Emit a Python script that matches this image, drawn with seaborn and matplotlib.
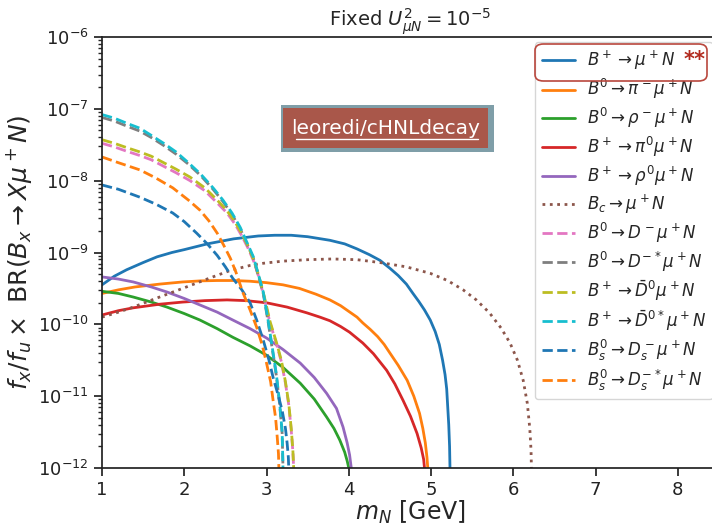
import numpy as np
import pandas as pd
import matplotlib
matplotlib.use("Agg")
import matplotlib.pyplot as plt
import matplotlib.ticker as mticker
import seaborn as sns
from matplotlib.patches import FancyBboxPatch, Rectangle
from matplotlib.lines import Line2D

# ---- data (x = m_N in GeV, y = log10 of BR) ----
b_mu_x = [1.0, 1.15, 1.3, 1.5, 1.67, 1.85, 2.0, 2.28, 2.6, 2.9, 3.1, 3.3, 3.5, 3.77, 3.95, 4.1, 4.25, 4.38, 4.5, 4.6, 4.7, 4.78, 4.85, 4.92, 4.99, 5.05, 5.1, 5.14, 5.17, 5.19, 5.2, 5.215, 5.225, 5.23]
b_mu_y = [-9.45, -9.33, -9.24, -9.14, -9.06, -9.0, -8.96, -8.88, -8.81, -8.77, -8.76, -8.76, -8.78, -8.83, -8.88, -8.95, -9.03, -9.11, -9.22, -9.32, -9.44, -9.57, -9.68, -9.8, -9.94, -10.1, -10.28, -10.5, -10.7, -10.9, -11.1, -11.4, -11.7, -12.0]

b0_pi_x = [1.0, 1.2, 1.4, 1.7, 1.98, 2.2, 2.4, 2.6, 2.8, 3.0, 3.2, 3.4, 3.6, 3.77, 3.9, 4.0, 4.1, 4.17, 4.26, 4.35, 4.43, 4.5, 4.6, 4.71, 4.79, 4.86, 4.9, 4.93, 4.95, 4.96]
b0_pi_y = [-9.57, -9.52, -9.48, -9.44, -9.41, -9.395, -9.39, -9.39, -9.40, -9.42, -9.45, -9.5, -9.58, -9.66, -9.74, -9.82, -9.9, -9.98, -10.07, -10.17, -10.28, -10.4, -10.57, -10.78, -11.0, -11.24, -11.45, -11.65, -11.85, -12.0]

b0_rho_x = [1.0, 1.2, 1.38, 1.6, 1.79, 2.0, 2.19, 2.4, 2.59, 2.8, 3.0, 3.2, 3.41, 3.58, 3.73, 3.82, 3.89, 3.95, 3.98, 4.0]
b0_rho_y = [-9.54, -9.57, -9.62, -9.69, -9.76, -9.85, -9.94, -10.06, -10.18, -10.3, -10.43, -10.6, -10.82, -11.04, -11.29, -11.45, -11.61, -11.78, -11.9, -12.0]

bp_pi0_x = [1.0, 1.2, 1.38, 1.7, 1.98, 2.25, 2.52, 2.75, 3.0, 3.25, 3.49, 3.65, 3.77, 3.9, 4.01, 4.17, 4.3, 4.46, 4.56, 4.66, 4.75, 4.83, 4.88, 4.91, 4.92]
bp_pi0_y = [-9.87, -9.81, -9.77, -9.72, -9.69, -9.67, -9.66, -9.67, -9.70, -9.76, -9.84, -9.9, -9.95, -10.03, -10.11, -10.26, -10.41, -10.64, -10.83, -11.06, -11.28, -11.52, -11.72, -11.88, -12.0]

bp_rho0_x = [1.0, 1.2, 1.38, 1.6, 1.79, 2.0, 2.19, 2.4, 2.59, 2.8, 3.0, 3.2, 3.41, 3.58, 3.73, 3.85, 3.93, 3.98, 4.01, 4.03]
bp_rho0_y = [-9.34, -9.37, -9.41, -9.48, -9.55, -9.64, -9.73, -9.83, -9.94, -10.06, -10.19, -10.35, -10.54, -10.74, -10.96, -11.17, -11.43, -11.65, -11.82, -12.0]

bc_mu_x = [1.0, 1.2, 1.38, 1.7, 1.98, 2.3, 2.56, 2.8, 2.96, 3.2, 3.5, 3.8, 4.1, 4.38, 4.7, 4.99, 5.2, 5.39, 5.55, 5.71, 5.85, 5.96, 6.05, 6.12, 6.17, 6.2, 6.215, 6.22]
bc_mu_y = [-9.90, -9.83, -9.76, -9.62, -9.50, -9.36, -9.25, -9.18, -9.15, -9.12, -9.1, -9.09, -9.1, -9.14, -9.2, -9.29, -9.39, -9.52, -9.66, -9.84, -10.05, -10.26, -10.5, -10.78, -11.1, -11.45, -11.75, -12.0]

b0_d_x = [1.0, 1.15, 1.3, 1.46, 1.6, 1.75, 1.9, 2.07, 2.25, 2.4, 2.52, 2.62, 2.7, 2.78, 2.85, 2.9, 2.97, 3.04, 3.12, 3.18, 3.23, 3.27, 3.3, 3.32, 3.33]
b0_d_y = [-7.48, -7.53, -7.59, -7.65, -7.71, -7.8, -7.89, -8.0, -8.14, -8.31, -8.45, -8.61, -8.77, -8.95, -9.14, -9.32, -9.62, -9.97, -10.27, -10.52, -10.82, -11.12, -11.47, -11.77, -12.0]

b0_dst_x = [1.0, 1.15, 1.3, 1.46, 1.6, 1.75, 1.9, 2.05, 2.2, 2.35, 2.47, 2.58, 2.68, 2.77, 2.84, 2.9, 2.96, 3.02, 3.08, 3.12, 3.16, 3.19, 3.2]
b0_dst_y = [-7.12, -7.17, -7.24, -7.31, -7.4, -7.51, -7.63, -7.77, -7.93, -8.12, -8.29, -8.47, -8.67, -8.9, -9.08, -9.32, -9.57, -9.97, -10.42, -10.72, -11.12, -11.52, -12.0]

bp_d0_x = [1.0, 1.15, 1.3, 1.46, 1.6, 1.75, 1.9, 2.07, 2.25, 2.4, 2.52, 2.62, 2.7, 2.78, 2.85, 2.9, 2.97, 3.04, 3.12, 3.18, 3.23, 3.27, 3.3, 3.32, 3.33]
bp_d0_y = [-7.43, -7.48, -7.54, -7.6, -7.66, -7.75, -7.84, -7.95, -8.1, -8.27, -8.42, -8.58, -8.74, -8.92, -9.12, -9.3, -9.6, -9.95, -10.25, -10.5, -10.8, -11.1, -11.45, -11.75, -12.0]

bp_d0st_x = [1.0, 1.15, 1.3, 1.46, 1.6, 1.75, 1.9, 2.05, 2.2, 2.35, 2.47, 2.58, 2.68, 2.77, 2.84, 2.9, 2.96, 3.02, 3.08, 3.12, 3.16, 3.19, 3.2]
bp_d0st_y = [-7.08, -7.13, -7.20, -7.27, -7.37, -7.48, -7.60, -7.75, -7.91, -8.1, -8.27, -8.45, -8.65, -8.88, -9.06, -9.3, -9.55, -9.95, -10.4, -10.7, -11.1, -11.5, -12.0]

bs_ds_x = [1.0, 1.2, 1.46, 1.66, 1.86, 2.0, 2.15, 2.28, 2.4, 2.5, 2.59, 2.7, 2.8, 2.88, 2.96, 3.03, 3.08, 3.14, 3.19, 3.23, 3.25, 3.265, 3.27]
bs_ds_y = [-8.06, -8.12, -8.23, -8.33, -8.45, -8.57, -8.73, -8.88, -9.04, -9.2, -9.36, -9.52, -9.70, -9.94, -10.22, -10.5, -10.74, -10.98, -11.2, -11.45, -11.65, -11.85, -12.0]

bs_dsst_x = [1.0, 1.2, 1.46, 1.65, 1.86, 2.05, 2.19, 2.3, 2.4, 2.48, 2.56, 2.63, 2.71, 2.8, 2.88, 2.95, 3.0, 3.05, 3.08, 3.11, 3.13, 3.145, 3.15]
bs_dsst_y = [-7.67, -7.75, -7.85, -7.96, -8.10, -8.27, -8.41, -8.56, -8.73, -8.9, -9.08, -9.28, -9.55, -9.8, -10.04, -10.3, -10.54, -10.8, -11.06, -11.3, -11.57, -11.8, -12.0]

labels = [
    r"$B^+ \to \mu^+ N$",
    r"$B^0 \to \pi^- \mu^+ N$",
    r"$B^0 \to \rho^- \mu^+ N$",
    r"$B^+ \to \pi^0 \mu^+ N$",
    r"$B^+ \to \rho^0 \mu^+ N$",
    r"$B_c \to \mu^+ N$",
    r"$B^0 \to D^- \mu^+ N$",
    r"$B^0 \to D^{-*} \mu^+ N$",
    r"$B^+ \to \bar{D}^0 \mu^+ N$",
    r"$B^+ \to \bar{D}^{0*} \mu^+ N$",
    r"$B^0_s \to D_s^- \mu^+ N$",
    r"$B^0_s \to D_s^{-*} \mu^+ N$",
]
series = [
    (b_mu_x, b_mu_y), (b0_pi_x, b0_pi_y), (b0_rho_x, b0_rho_y), (bp_pi0_x, bp_pi0_y),
    (bp_rho0_x, bp_rho0_y), (bc_mu_x, bc_mu_y), (b0_d_x, b0_d_y), (b0_dst_x, b0_dst_y),
    (bp_d0_x, bp_d0_y), (bp_d0st_x, bp_d0st_y), (bs_ds_x, bs_ds_y), (bs_dsst_x, bs_dsst_y),
]
colors = ["#1f77b4", "#ff7f0e", "#2ca02c", "#d62728", "#9467bd", "#8c564b",
          "#e377c2", "#7f7f7f", "#bcbd22", "#17becf", "#1f77b4", "#ff7f0e"]
styles = ["-"] * 5 + [":"] + ["--"] * 6

sns.set_theme(style="ticks")
plt.rcParams["font.family"] = ["DejaVu Sans"]
plt.rcParams["mathtext.fontset"] = "dejavusans"

fig = plt.figure(figsize=(7.12, 5.26), dpi=100)
ax = fig.add_axes([102 / 712, 58 / 526, 617 / 712, 431 / 526])

for (xs, ys), lab, c, ls in zip(series, labels, colors, styles):
    df = pd.DataFrame({"m": xs, "br": 10.0 ** np.array(ys)})
    sns.lineplot(data=df, x="m", y="br", ax=ax, color=c, linestyle=ls, lw=2,
                 label=lab, estimator=None, sort=False)

ax.set_yscale("log")
ax.set_xlim(1, 8.5)
ax.set_ylim(1e-12, 1e-6)
ax.set_xticks([1, 2, 3, 4, 5, 6, 7, 8])
ax.yaxis.set_minor_formatter(mticker.NullFormatter())
ax.tick_params(axis="both", labelsize=13, direction="out", colors="#222222")
ax.tick_params(axis="y", which="minor", length=3)
for s in ax.spines.values():
    s.set_color("#222222")
ax.set_xlabel(r"$m_N$ [GeV]", fontsize=17, labelpad=0)
ax.set_ylabel(r"$f_x/f_u \times$ BR$(B_x \to X\mu^+N)$", fontsize=18, labelpad=3)
ax.set_title(r"Fixed $U^2_{\mu N} = 10^{-5}$", fontsize=14, pad=6)

leg = ax.legend(loc="upper right", fontsize=12, frameon=True, handlelength=2.0,
                labelspacing=0.29, borderaxespad=0.2, bbox_to_anchor=(0.995, 0.995),
                handletextpad=0.7)
leg.get_frame().set_edgecolor("#cccccc")

# highlight box around first legend entry
W, H = 712, 526
fig.patches.append(FancyBboxPatch((535 / W, 1 - 81 / H), 172 / W, 37 / H,
                                  boxstyle="round,pad=0,rounding_size=0.012",
                                  transform=fig.transFigure, fill=False,
                                  edgecolor="#b9473d", lw=1.2, zorder=10))
fig.text(695 / W, 1 - 60 / H, "**", color="#b22a1e", fontsize=15, fontweight="bold",
         ha="center", va="center", zorder=11)

# watermark label
fig.patches.append(Rectangle((281 / W, 1 - 152 / H), 213 / W, 47 / H,
                             transform=fig.transFigure, facecolor="#7f9ea8",
                             edgecolor="none", zorder=10))
fig.patches.append(Rectangle((283 / W, 1 - 148 / H), 205 / W, 40 / H,
                             transform=fig.transFigure, facecolor="#a9574a",
                             edgecolor="none", zorder=11))
fig.text(386 / W, 1 - 128 / H, "leoredi/cHNLdecay", color="white", fontsize=14.5,
         ha="center", va="center", zorder=12)
fig.lines.append(Line2D([296 / W, 478 / W], [1 - 139 / H, 1 - 139 / H],
                        transform=fig.transFigure, color="white", lw=1, zorder=12))

fig.savefig("out.png", dpi=100)
